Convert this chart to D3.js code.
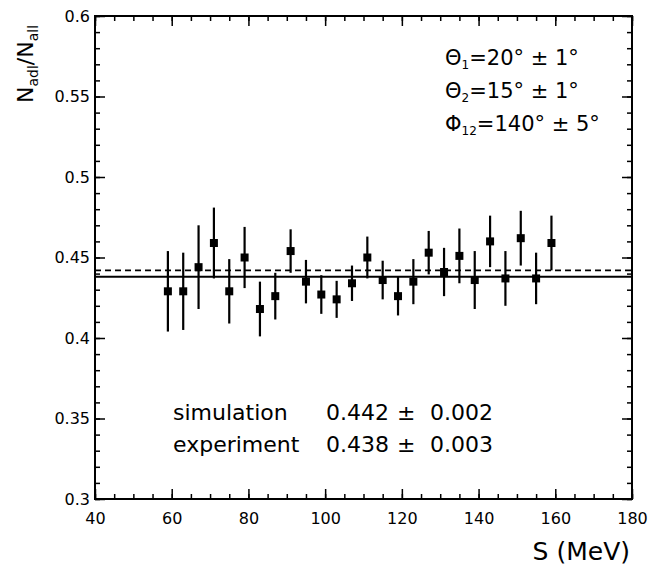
<!DOCTYPE html>
<html>
<head>
<meta charset="utf-8">
<script src="https://cdn.jsdelivr.net/npm/d3@7"></script>
<style>
  body { margin: 0; background: #fff; }
  text { font-family: "DejaVu Sans", sans-serif; fill: #000; }
</style>
</head>
<body>
<div id="chart"></div>
<script>
// S bins (MeV) and measured ratio N_adl/N_all with errors
const sValues = [59, 63, 67, 71, 75, 79, 83, 87, 91, 95, 99, 103, 107, 111, 115, 119, 123, 127, 131, 135, 139, 143, 147, 151, 155, 159];
const ratio = [0.429, 0.429, 0.444, 0.459, 0.429, 0.450, 0.418, 0.426, 0.454, 0.435, 0.427, 0.424, 0.434, 0.450, 0.436, 0.426, 0.435, 0.453, 0.441, 0.451, 0.436, 0.460, 0.437, 0.462, 0.437, 0.459];
const ratioErr = [0.025, 0.024, 0.026, 0.022, 0.020, 0.019, 0.017, 0.0145, 0.0135, 0.0135, 0.012, 0.0115, 0.011, 0.013, 0.012, 0.012, 0.014, 0.0135, 0.015, 0.017, 0.018, 0.016, 0.017, 0.017, 0.016, 0.017];

const simValue = 0.442, simErr = "0.002";
const expValue = 0.438, expErr = "0.003";

const xMajor = [40, 60, 80, 100, 120, 140, 160, 180];
const xMinor = d3.range(40, 181, 5);
const yMajor = [0.3, 0.35, 0.4, 0.45, 0.5, 0.55, 0.6];
const yMinor = d3.range(30, 61).map(v => v / 100);

const angleLines = [
  { sym: "\u0398", sub: "1", rest: "=20\u00b0 \u00b1 1\u00b0" },
  { sym: "\u0398", sub: "2", rest: "=15\u00b0 \u00b1 1\u00b0" },
  { sym: "\u03a6", sub: "12", rest: "=140\u00b0 \u00b1 5\u00b0" }
];

const W = 662, H = 568;
const margin = { top: 16, right: 30, bottom: 69, left: 95 };
const width = W - margin.left - margin.right,
      height = H - margin.top - margin.bottom;

const svg = d3.select("#chart").append("svg")
  .attr("width", W).attr("height", H);

svg.append("rect").attr("width", W).attr("height", H).attr("fill", "#fff");

const g = svg.append("g")
  .attr("transform", `translate(${margin.left},${margin.top})`);

const x = d3.scaleLinear().domain([40, 180]).range([0, width]);
const y = d3.scaleLinear().domain([0.3, 0.6]).range([height, 0]);

function styleAxis(sel) {
  sel.select(".domain").remove();
  sel.selectAll(".tick line").attr("stroke", "#000").attr("stroke-width", 1.5);
}

// bottom axis
g.append("g").attr("transform", `translate(0,${height})`)
  .call(d3.axisBottom(x).tickValues(xMinor).tickSize(-5).tickFormat(""))
  .call(styleAxis);
g.append("g").attr("transform", `translate(0,${height})`)
  .call(d3.axisBottom(x).tickValues(xMajor).tickSize(-10).tickPadding(14).tickFormat(d3.format("d")))
  .call(styleAxis)
  .selectAll("text").attr("font-size", 16).attr("font-family", "DejaVu Sans");

// top axis
g.append("g")
  .call(d3.axisTop(x).tickValues(xMinor).tickSize(-5).tickFormat(""))
  .call(styleAxis);
g.append("g")
  .call(d3.axisTop(x).tickValues(xMajor).tickSize(-10).tickFormat(""))
  .call(styleAxis);

// left axis
g.append("g")
  .call(d3.axisLeft(y).tickValues(yMinor).tickSize(-5).tickFormat(""))
  .call(styleAxis);
g.append("g")
  .call(d3.axisLeft(y).tickValues(yMajor).tickSize(-10).tickPadding(5).tickFormat(d => String(+d.toFixed(2))))
  .call(styleAxis)
  .selectAll("text").attr("font-size", 16).attr("font-family", "DejaVu Sans");

// right axis
g.append("g").attr("transform", `translate(${width},0)`)
  .call(d3.axisRight(y).tickValues(yMinor).tickSize(-5).tickFormat(""))
  .call(styleAxis);
g.append("g").attr("transform", `translate(${width},0)`)
  .call(d3.axisRight(y).tickValues(yMajor).tickSize(-10).tickFormat(""))
  .call(styleAxis);

// frame
g.append("rect")
  .attr("width", width).attr("height", height)
  .attr("fill", "none").attr("stroke", "#000").attr("stroke-width", 2);

// fit lines
g.append("line")
  .attr("x1", 0).attr("x2", width)
  .attr("y1", y(simValue)).attr("y2", y(simValue))
  .attr("stroke", "#000").attr("stroke-width", 1.6)
  .attr("stroke-dasharray", "6,4");
g.append("line")
  .attr("x1", 0).attr("x2", width)
  .attr("y1", y(expValue)).attr("y2", y(expValue))
  .attr("stroke", "#000").attr("stroke-width", 2);

// data
const pts = sValues.map((s, i) => ({ s, v: ratio[i], e: ratioErr[i] }));

g.selectAll(".err")
  .data(pts)
  .enter()
  .append("line")
  .attr("class", "err")
  .attr("x1", d => x(d.s)).attr("x2", d => x(d.s))
  .attr("y1", d => y(d.v + d.e)).attr("y2", d => y(d.v - d.e))
  .attr("stroke", "#000").attr("stroke-width", 2.2);

g.selectAll(".pt")
  .data(pts)
  .enter()
  .append("rect")
  .attr("class", "pt")
  .attr("x", d => x(d.s) - 4).attr("y", d => y(d.v) - 4)
  .attr("width", 8).attr("height", 8)
  .attr("fill", "#000");

// axis titles
svg.append("text")
  .attr("x", 630).attr("y", 560)
  .attr("text-anchor", "end")
  .attr("font-size", 25)
  .text("S (MeV)");

const yt = svg.append("text")
  .attr("transform", "translate(33,64) rotate(-90)")
  .attr("text-anchor", "middle")
  .attr("font-size", 22);
yt.append("tspan").text("N");
yt.append("tspan").attr("font-size", 14).attr("dy", 5).text("adl");
yt.append("tspan").attr("dy", -5).text("/N");
yt.append("tspan").attr("font-size", 14).attr("dy", 5).text("all");

// angle annotations
angleLines.forEach((d, i) => {
  const t = svg.append("text")
    .attr("x", 445).attr("y", 65 + i * 33)
    .attr("font-size", 21);
  t.append("tspan").text(d.sym);
  t.append("tspan").attr("font-size", 12).attr("dy", 4).text(d.sub);
  t.append("tspan").attr("dy", -4).text(d.rest);
});

// results
const results = [
  { name: "simulation", value: simValue.toFixed(3), err: simErr },
  { name: "experiment", value: expValue.toFixed(3), err: expErr }
];
results.forEach((r, i) => {
  const yy = 420 + i * 32;
  svg.append("text").attr("x", 173).attr("y", yy).attr("font-size", 22).text(r.name);
  svg.append("text").attr("x", 326).attr("y", yy).attr("font-size", 22).text(r.value);
  svg.append("text").attr("x", 397).attr("y", yy).attr("font-size", 22).text("\u00b1");
  svg.append("text").attr("x", 430).attr("y", yy).attr("font-size", 22).text(r.err);
});
</script>
</body>
</html>
